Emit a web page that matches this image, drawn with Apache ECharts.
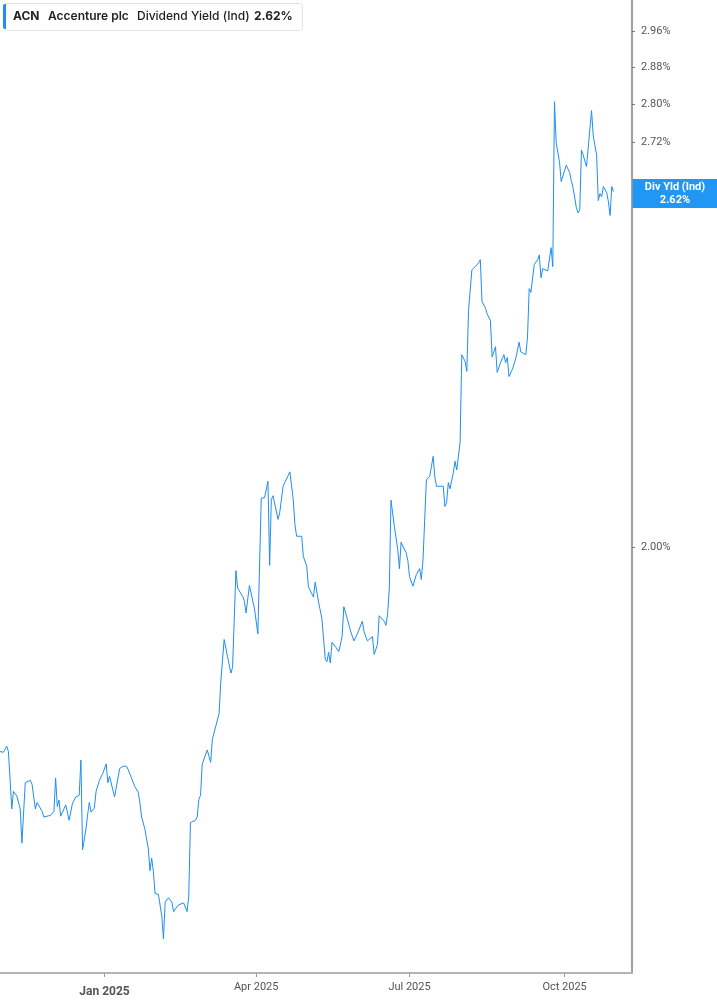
<!DOCTYPE html>
<html>
<head>
<meta charset="utf-8">
<script src="https://cdn.jsdelivr.net/npm/echarts@6/dist/echarts.min.js"></script>
<style>
html, body { margin: 0; padding: 0; background: #fff; }
#chart { width: 717px; height: 1005px; }
</style>
</head>
<body>
<div id="chart"></div>
<script>
// ACN dividend yield (indicated)
var dates = [
  '2024-10-31','2024-11-02','2024-11-04','2024-11-05','2024-11-07','2024-11-08','2024-11-10','2024-11-12','2024-11-13','2024-11-15',
  '2024-11-18','2024-11-19','2024-11-21','2024-11-22','2024-11-25','2024-11-26','2024-11-27','2024-11-30','2024-12-02','2024-12-03',
  '2024-12-04','2024-12-05','2024-12-06','2024-12-09','2024-12-11','2024-12-13','2024-12-15','2024-12-17','2024-12-18','2024-12-19',
  '2024-12-21','2024-12-22','2024-12-23','2024-12-24','2024-12-26','2024-12-27','2024-12-29','2024-12-31','2025-01-02','2025-01-03',
  '2025-01-04','2025-01-07','2025-01-10','2025-01-12','2025-01-14','2025-01-15','2025-01-17','2025-01-19','2025-01-21','2025-01-22',
  '2025-01-23','2025-01-24','2025-01-25','2025-01-27','2025-01-28','2025-01-29','2025-01-30','2025-01-31','2025-02-02','2025-02-03',
  '2025-02-04','2025-02-05','2025-02-06','2025-02-08','2025-02-10','2025-02-11','2025-02-12','2025-02-13','2025-02-14','2025-02-17',
  '2025-02-19','2025-02-20','2025-02-21','2025-02-24','2025-02-25','2025-02-26','2025-02-27','2025-02-28','2025-03-03','2025-03-05',
  '2025-03-06','2025-03-07','2025-03-10','2025-03-11','2025-03-13','2025-03-15','2025-03-17','2025-03-18','2025-03-19','2025-03-20',
  '2025-03-21','2025-03-24','2025-03-25','2025-03-26','2025-03-28','2025-03-31','2025-04-01','2025-04-02','2025-04-04','2025-04-06',
  '2025-04-07','2025-04-08','2025-04-09','2025-04-10','2025-04-11','2025-04-14','2025-04-15','2025-04-17','2025-04-18','2025-04-21',
  '2025-04-23','2025-04-24','2025-04-25','2025-04-28','2025-04-29','2025-05-01','2025-05-02','2025-05-05','2025-05-06','2025-05-08',
  '2025-05-09','2025-05-10','2025-05-12','2025-05-13','2025-05-14','2025-05-15','2025-05-16','2025-05-18','2025-05-20','2025-05-22',
  '2025-05-23','2025-05-25','2025-05-27','2025-05-28','2025-05-29','2025-05-31','2025-06-03','2025-06-04','2025-06-05','2025-06-06',
  '2025-06-09','2025-06-10','2025-06-12','2025-06-13','2025-06-16','2025-06-17','2025-06-18','2025-06-19','2025-06-20','2025-06-22',
  '2025-06-24','2025-06-25','2025-06-26','2025-06-27','2025-06-28','2025-06-29','2025-06-30','2025-07-01','2025-07-02','2025-07-03',
  '2025-07-05','2025-07-07','2025-07-08','2025-07-09','2025-07-11','2025-07-13','2025-07-15','2025-07-16','2025-07-17','2025-07-21',
  '2025-07-22','2025-07-23','2025-07-24','2025-07-25','2025-07-27','2025-07-28','2025-07-29','2025-07-31','2025-08-01','2025-08-03',
  '2025-08-04','2025-08-05','2025-08-06','2025-08-07','2025-08-09','2025-08-11','2025-08-12','2025-08-13','2025-08-15','2025-08-16',
  '2025-08-18','2025-08-19','2025-08-21','2025-08-22','2025-08-24','2025-08-26','2025-08-27','2025-08-28','2025-08-29','2025-08-31',
  '2025-09-02','2025-09-04','2025-09-05','2025-09-08','2025-09-09','2025-09-10','2025-09-11','2025-09-13','2025-09-15','2025-09-16',
  '2025-09-17','2025-09-18','2025-09-21','2025-09-22','2025-09-23','2025-09-24','2025-09-25','2025-09-26','2025-09-28','2025-09-29',
  '2025-09-30','2025-10-02','2025-10-04','2025-10-05','2025-10-06','2025-10-08','2025-10-09','2025-10-10','2025-10-11','2025-10-12',
  '2025-10-14','2025-10-17','2025-10-18','2025-10-20','2025-10-21','2025-10-22','2025-10-23','2025-10-24','2025-10-26','2025-10-27',
  '2025-10-28','2025-10-29','2025-10-30'
];
var yields = [
  1.713,1.712,1.720,1.713,1.640,1.662,1.656,1.640,1.598,1.673,
  1.676,1.671,1.640,1.648,1.637,1.630,1.632,1.632,1.637,1.679,
  1.643,1.651,1.631,1.645,1.626,1.647,1.655,1.657,1.702,1.590,
  1.615,1.633,1.648,1.636,1.641,1.662,1.676,1.685,1.697,1.673,
  1.681,1.655,1.691,1.694,1.694,1.690,1.679,1.668,1.661,1.648,
  1.630,1.631,1.615,1.591,1.565,1.580,1.564,1.538,1.537,1.535,
  1.512,1.486,1.528,1.533,1.528,1.517,1.520,1.518,1.525,1.527,
  1.517,1.535,1.623,1.626,1.630,1.652,1.657,1.697,1.715,1.699,
  1.729,1.730,1.763,1.806,1.865,1.841,1.818,1.826,1.825,1.965,
  1.939,1.927,1.920,1.903,1.943,1.909,1.891,1.873,2.076,2.077,
  2.079,2.103,1.973,2.074,2.080,2.043,2.054,2.095,2.101,2.118,
  2.074,2.035,2.017,2.017,1.986,1.972,1.941,1.926,1.948,1.919,
  1.920,1.895,1.837,1.834,1.847,1.832,1.861,1.855,1.848,1.869,
  1.912,1.895,1.877,1.875,1.863,1.873,1.891,1.876,1.876,1.863,
  1.869,1.844,1.858,1.899,1.891,1.885,1.902,1.938,2.073,2.032,
  1.997,1.968,2.008,2.002,2.002,1.992,1.980,1.956,1.956,1.942,
  1.959,1.968,1.952,1.982,2.105,2.111,2.143,2.110,2.095,2.095,
  2.063,2.069,2.101,2.091,2.117,2.135,2.121,2.166,2.315,2.303,
  2.286,2.394,2.392,2.469,2.475,2.482,2.488,2.410,2.399,2.388,
  2.376,2.311,2.329,2.284,2.301,2.315,2.301,2.310,2.277,2.289,
  2.308,2.337,2.320,2.315,2.346,2.434,2.427,2.479,2.488,2.497,
  2.454,2.471,2.467,2.465,2.511,2.475,2.805,2.720,2.679,2.640,
  2.642,2.673,2.658,2.642,2.628,2.588,2.578,2.584,2.704,2.694,
  2.670,2.786,2.733,2.694,2.602,2.616,2.610,2.630,2.618,2.600,
  2.573,2.630,2.620
];
var yTicks = [2.00, 2.72, 2.80, 2.88, 2.96];
var xTicks = ['2025-01-01', '2025-04-01', '2025-07-01', '2025-10-01'];
var xRange = ['2024-10-31', '2025-11-10'];
var yRange = [1.448, 3.03];
var monthNames = ['Jan','Feb','Mar','Apr','May','Jun','Jul','Aug','Sep','Oct','Nov','Dec'];

function toTime(s) {
  var p = s.split('-');
  return new Date(+p[0], +p[1] - 1, +p[2]).getTime();
}

var seriesData = [];
for (let i = 0; i < dates.length; i++) {
  seriesData.push([toTime(dates[i]), yields[i]]);
}
var lastYield = yields[yields.length - 1];
var xTickTimes = xTicks.map(toTime);

var myChart = echarts.init(document.getElementById('chart'));
var option = {
  animation: false,
  backgroundColor: '#fff',
  grid: { left: 0, right: 85, top: 0, bottom: 32 },
  xAxis: {
    type: 'value',
    min: toTime(xRange[0]),
    max: toTime(xRange[1]),
    axisLine: { show: true, lineStyle: { color: '#b4b4b4', width: 2 } },
    axisTick: { show: true, length: 4, lineStyle: { color: '#9a9a9a' }, customValues: xTickTimes },
    splitLine: { show: false },
    axisLabel: {
      customValues: xTickTimes,
      margin: 9,
      hideOverlap: false,
      formatter: function (val) {
        var d = new Date(val);
        var txt = monthNames[d.getMonth()] + ' ' + d.getFullYear();
        return d.getMonth() === 0 ? '{b|' + txt + '}' : '{n|' + txt + '}';
      },
      rich: {
        b: { fontFamily: 'Roboto', fontSize: 12, fontWeight: 'bold', color: '#555', padding: [4, 0, 0, 0] },
        n: { fontFamily: 'Roboto', fontSize: 11, color: '#555' }
      }
    }
  },
  yAxis: {
    type: 'log',
    logBase: 10,
    position: 'right',
    min: yRange[0],
    max: yRange[1],
    axisLine: { show: true, lineStyle: { color: '#a0a0a0', width: 2 } },
    axisTick: { show: true, length: 3, lineStyle: { color: '#777' }, customValues: yTicks },
    splitLine: { show: false },
    axisLabel: {
      customValues: yTicks,
      margin: 9,
      fontFamily: 'Roboto',
      fontSize: 11,
      color: '#555',
      formatter: function (v) { return v.toFixed(2) + '%'; }
    }
  },
  series: [{
    type: 'line',
    data: seriesData,
    showSymbol: false,
    symbol: 'none',
    clip: false,
    lineStyle: { color: '#1f8ef1', width: 1 },
    markLine: {
      silent: true,
      symbol: ['none', 'none'],
      lineStyle: { color: 'rgba(0,0,0,0)', width: 0 },
      data: [{ yAxis: lastYield }],
      label: {
        show: true,
        position: 'end',
        distance: 0,
        offset: [43, 2],
        formatter: 'Div Yld (Ind)\n' + lastYield.toFixed(2) + '%',
        backgroundColor: '#2196f3',
        color: '#fff',
        fontFamily: 'Roboto',
        fontWeight: 'bold',
        fontSize: 11,
        lineHeight: 13,
        width: 75,
        align: 'center',
        padding: [2, 5, 1, 5]
      }
    }
  }],
  graphic: [
    { type: 'rect', left: 3, top: 3, shape: { width: 299, height: 27, r: 3 },
      style: { fill: '#fff', stroke: '#e4e4e4', lineWidth: 1 } },
    { type: 'rect', left: 3, top: 4, shape: { width: 3, height: 25, r: [2, 0, 0, 2] },
      style: { fill: '#1f8ef1' } },
    { type: 'text', left: 13, top: 10, style: { text: 'ACN', font: 'bold 12px Inter', fill: '#222' } },
    { type: 'text', left: 48, top: 10, style: { text: 'Accenture plc', font: '600 12px Inter', fill: '#222' } },
    { type: 'text', left: 137, top: 10, style: { text: 'Dividend Yield (Ind)', font: '500 12px Inter', fill: '#222' } },
    { type: 'text', left: 254, top: 10, style: { text: lastYield.toFixed(2) + '%', font: 'bold 12px Inter', fill: '#222' } }
  ]
};
myChart.setOption(option);
</script>
</body>
</html>
